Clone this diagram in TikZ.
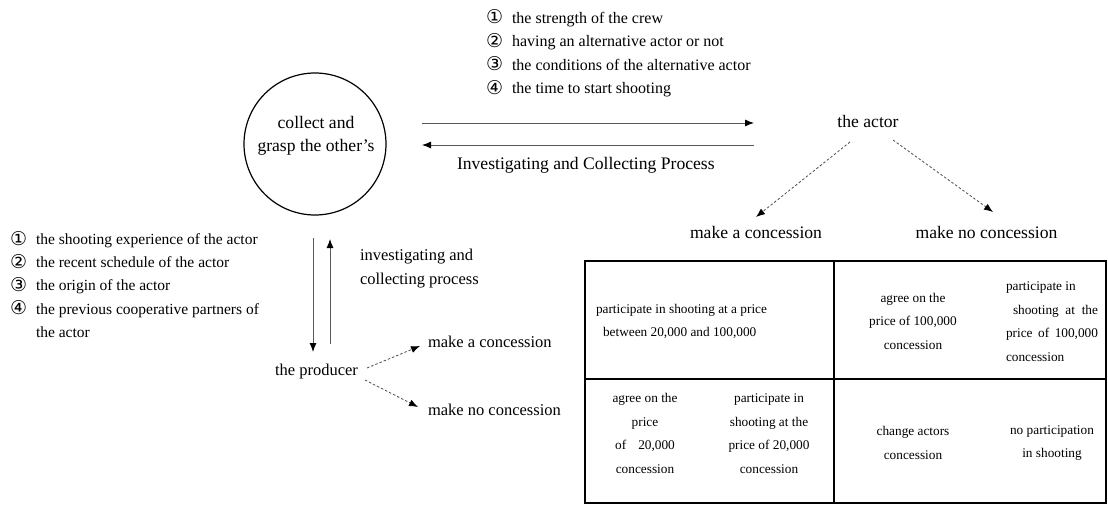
\documentclass[tikz,border=0pt]{standalone}
\usepackage{fontspec}
\setmainfont{Liberation Serif}
\newfontfamily\symfont{DejaVu Sans}
\usetikzlibrary{arrows.meta}
% circled item number followed by a fixed gap
\newcommand\cnum[1]{\makebox[26pt][l]{\raisebox{-0.5pt}{\symfont\fontsize{19}{19}\selectfont #1}}}
\tikzset{
  lbl/.style={inner sep=0pt, outer sep=0pt},
  big/.style={lbl, font=\fontsize{17.6}{23}\selectfont},
  mid/.style={lbl, font=\fontsize{16.5}{24}\selectfont},
  item/.style={lbl, anchor=base west, font=\fontsize{16}{23}\selectfont},
  litem/.style={lbl, anchor=base west, font=\fontsize{15.5}{23}\selectfont},
  cell/.style={lbl, align=center, font=\fontsize{13.3}{23.5}\selectfont},
  flow/.style={draw=black!65, line width=0.9pt, -{Latex[length=9pt,width=7pt,color=black]}},
  maybe/.style={draw=black!70, line width=0.8pt, dash pattern=on 2.5pt off 2pt,
                -{Latex[length=9pt,width=7pt,color=black]}},
  grid/.style={line width=1.7pt},
}
\begin{document}
\begin{tikzpicture}[x=1pt,y=-1pt]
\useasboundingbox (0,0) rectangle (1108,505);

% information gathered about the crew
\node[item] (t1) at (486,23.5) {\cnum{①}the strength of the crew};
\node[item] (t2) at (486,47)   {\cnum{②}having an alternative actor or not};
\node[item] (t3) at (486,70.5) {\cnum{③}the conditions of the alternative actor};
\node[item] (t4) at (486,94)   {\cnum{④}the time to start shooting};

% central circle
\node[circle, draw, line width=1.2pt, minimum size=142pt, inner sep=0pt] (c) at (315,144) {};
\node[big, align=center] (ctext) at (316,135.5) {collect and\\grasp the other’s};

% exchange between the circle and the actor
\coordinate (r1) at (422,123);
\coordinate (r2) at (754,123);
\coordinate (l1) at (754,145);
\coordinate (l2) at (422,145);
\draw[flow] (r1) -- (r2);
\draw[flow] (l1) -- (l2);
\node[big, anchor=west] (inv) at (457,165) {Investigating and Collecting Process};

% the actor and its options
\node[big] (actor) at (868,121) {the actor};
\node[big] (actC) at (756,232) {make a concession};
\node[big] (actN) at (986.5,232) {make no concession};
\coordinate (a1) at (850,142);
\coordinate (a2) at (756,217);
\coordinate (a3) at (893,140);
\coordinate (a4) at (993,212);
\draw[maybe] (a1) -- (a2);
\draw[maybe] (a3) -- (a4);

% information gathered about the actor
\node[litem] (m1) at (10,244.5) {\cnum{①}the shooting experience of the actor};
\node[litem] (m2) at (10,267.5) {\cnum{②}the recent schedule of the actor};
\node[litem] (m3) at (10,290.5) {\cnum{③}the origin of the actor};
\node[litem] (m4) at (10,314)   {\cnum{④}the previous cooperative partners of};
\node[litem] (m5) at (36,337.5) {the actor};

% exchange between the circle and the producer
\coordinate (d1) at (313,238);
\coordinate (d2) at (313,352);
\coordinate (u1) at (330,344);
\coordinate (u2) at (330,239);
\draw[flow] (d1) -- (d2);
\draw[flow] (u1) -- (u2);
\node[mid, align=left, anchor=west] (invp) at (360,269) {investigating and\\collecting process};

% the producer and its options
\node[mid] (prod) at (316.5,372) {the producer};
\node[mid, anchor=west] (proC) at (428,342) {make a concession};
\node[mid, anchor=west] (proN) at (428,410) {make no concession};
\coordinate (p1) at (367,368);
\coordinate (p2) at (420,346);
\coordinate (p3) at (365,380);
\coordinate (p4) at (418,407);
\draw[maybe] (p1) -- (p2);
\draw[maybe] (p3) -- (p4);

% outcome table
\draw[grid] (585,261) rectangle (1106,503);
\draw[grid] (834,261) -- (834,503);
\draw[grid] (585,379) -- (1106,379);

\node[cell, align=left, anchor=west] (tl) at (596,321.5)
  {participate in shooting at a price\\\hspace*{7pt}between 20,000 and 100,000};
\node[cell] (tr1) at (913,321) {agree on the\\price of 100,000\\concession};
\node[cell, align=left, anchor=west] (tr2) at (1006,321.5)
  {participate in\\\hspace*{7pt}\makebox[85pt][s]{shooting at the}\\\makebox[92pt][s]{price of 100,000}\\concession};
\node[cell] (bl1) at (645,433.5) {agree on the\\price\\of\hspace{12pt}20,000\\concession};
\node[cell] (bl2) at (769,433.5) {participate in\\shooting at the\\price of 20,000\\concession};
\node[cell] (br1) at (913,443) {change actors\\concession};
\node[cell] (br2) at (1052,443) {no participation\\in shooting};
\end{tikzpicture}
\end{document}
